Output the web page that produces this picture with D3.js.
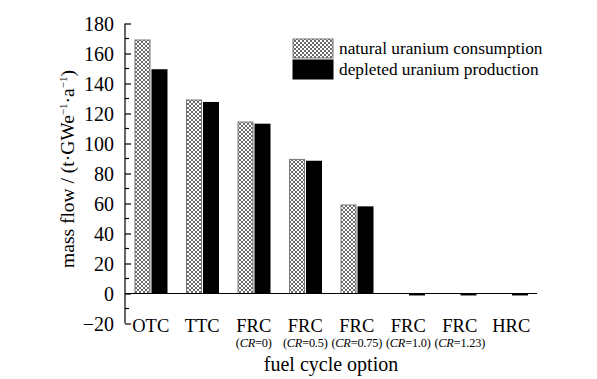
<!DOCTYPE html>
<html>
<head>
<meta charset="utf-8">
<script src="https://cdn.jsdelivr.net/npm/d3@7"></script>
<style>
  body { margin: 0; background: #fff; }
  svg text { font-family: "Liberation Serif", "Times New Roman", serif; fill: #000; }
</style>
</head>
<body>
<div id="chart"></div>
<script>
// categories and sub labels
var categories = ["OTC", "TTC", "FRC", "FRC", "FRC", "FRC", "FRC", "HRC"];
var subLabels = ["", "", "0", "0.5", "0.75", "1.0", "1.23", ""];

// series values (t/GWe/a)
var naturalU = [169, 129, 114.3, 89.4, 59, 0, 0, 0];
var depletedU = [149.5, 127.7, 113.2, 88.5, 58.1, -1.3, -1.3, -1.3];

var seriesNames = ["natural uranium consumption", "depleted uranium production"];
var yTicks = [-20, 0, 20, 40, 60, 80, 100, 120, 140, 160, 180];

var width = 597, height = 379;

var svg = d3.select("#chart").append("svg")
    .attr("width", width)
    .attr("height", height);

// hatch pattern
var defs = svg.append("defs");
var pat = defs.append("pattern")
    .attr("id", "hatch")
    .attr("patternUnits", "userSpaceOnUse")
    .attr("width", 4)
    .attr("height", 4);
pat.append("rect").attr("width", 4).attr("height", 4).attr("fill", "#fff");
pat.append("path")
    .attr("d", "M0,0 L4,4 M4,0 L0,4")
    .attr("stroke", "#444")
    .attr("stroke-width", 0.8);

// scales
var x = d3.scaleBand()
    .domain(d3.range(categories.length))
    .range([125, 537]);

var y = d3.scaleLinear()
    .domain([-20, 180])
    .range([323.5, 23.5]);

var barW = 15, gap = 1.5;

// bars
var groups = svg.selectAll("g.grp")
    .data(categories)
    .enter().append("g")
    .attr("class", "grp");

groups.append("rect")
    .attr("x", function(d, i) { return x(i) + x.bandwidth() / 2 - gap / 2 - barW; })
    .attr("width", barW)
    .attr("y", function(d, i) { return y(Math.max(0, naturalU[i])); })
    .attr("height", function(d, i) { return Math.abs(y(naturalU[i]) - y(0)); })
    .attr("fill", "url(#hatch)")
    .attr("stroke", "#777")
    .attr("stroke-width", 1);

groups.append("rect")
    .attr("x", function(d, i) { return x(i) + x.bandwidth() / 2 + gap / 2; })
    .attr("width", barW + 1)
    .attr("y", function(d, i) { return y(Math.max(0, depletedU[i])); })
    .attr("height", function(d, i) { return Math.abs(y(depletedU[i]) - y(0)); })
    .attr("fill", "#000");

// zero line
svg.append("line")
    .attr("x1", 125).attr("x2", 537)
    .attr("y1", y(0)).attr("y2", y(0))
    .attr("stroke", "#000")
    .attr("stroke-width", 1.2);

// y axis
var yAxis = d3.axisLeft(y)
    .tickValues(yTicks)
    .tickSize(-6)
    .tickPadding(11)
    .tickFormat(function(d) { return d < 0 ? "\u2212" + Math.abs(d) : d; });

var gy = svg.append("g")
    .attr("transform", "translate(125,0)")
    .call(yAxis);
gy.select(".domain").attr("stroke-width", 1.2).attr("d", "M0," + y(180) + "V" + y(-20));
gy.selectAll(".tick line").attr("stroke-width", 1.2);
gy.selectAll(".tick text")
    .attr("dy", "0.35em")
    .style("font-size", "20px");

// minor ticks
gy.selectAll(".minor")
    .data(d3.range(-10, 180, 20))
    .enter().append("line")
    .attr("class", "minor")
    .attr("x1", 0).attr("x2", 4)
    .attr("y1", function(d) { return y(d); })
    .attr("y2", function(d) { return y(d); })
    .attr("stroke", "#000")
    .attr("stroke-width", 1.2);

// x labels
var xl = svg.append("g");
xl.selectAll("text.cat")
    .data(categories)
    .enter().append("text")
    .attr("class", "cat")
    .attr("x", function(d, i) { return x(i) + x.bandwidth() / 2; })
    .attr("y", 332)
    .attr("text-anchor", "middle")
    .style("font-size", "18.5px")
    .text(function(d) { return d; });

var sub = xl.selectAll("text.sub")
    .data(subLabels.map(function(s, i) { return {s: s, i: i}; }).filter(function(d) { return d.s !== ""; }))
    .enter().append("text")
    .attr("class", "sub")
    .attr("x", function(d) { return x(d.i) + x.bandwidth() / 2; })
    .attr("y", 347)
    .attr("text-anchor", "middle")
    .style("font-size", "12.3px")
    .style("letter-spacing", "-0.2px");
sub.append("tspan").text("(");
sub.append("tspan").style("font-style", "italic").text("CR");
sub.append("tspan").text(function(d) { return "=" + d.s + ")"; });

// axis titles
svg.append("text")
    .attr("x", 331)
    .attr("y", 371)
    .attr("text-anchor", "middle")
    .style("font-size", "20px")
    .text("fuel cycle option");

var yt = svg.append("text")
    .attr("transform", "translate(74,169) rotate(-90)")
    .attr("text-anchor", "middle")
    .style("font-size", "19.5px");
yt.append("tspan").text("mass flow / (t\u00B7GWe");
yt.append("tspan").attr("dy", -7).style("font-size", "11px").text("\u22121");
yt.append("tspan").attr("dy", 7).text("\u00B7a");
yt.append("tspan").attr("dy", -7).style("font-size", "11px").text("\u22121");
yt.append("tspan").attr("dy", 7).text(")");

// legend
var legend = svg.append("g").attr("transform", "translate(293,39)");
var items = legend.selectAll("g")
    .data(seriesNames)
    .enter().append("g")
    .attr("transform", function(d, i) { return "translate(0," + (i * 21) + ")"; });
items.append("rect")
    .attr("width", 40)
    .attr("height", 19)
    .attr("fill", function(d, i) { return i === 0 ? "url(#hatch)" : "#000"; })
    .attr("stroke", function(d, i) { return i === 0 ? "#777" : "#000"; });
items.append("text")
    .attr("x", 46)
    .attr("y", 15)
    .style("font-size", "17.3px")
    .text(function(d) { return d; });
</script>
</body>
</html>
